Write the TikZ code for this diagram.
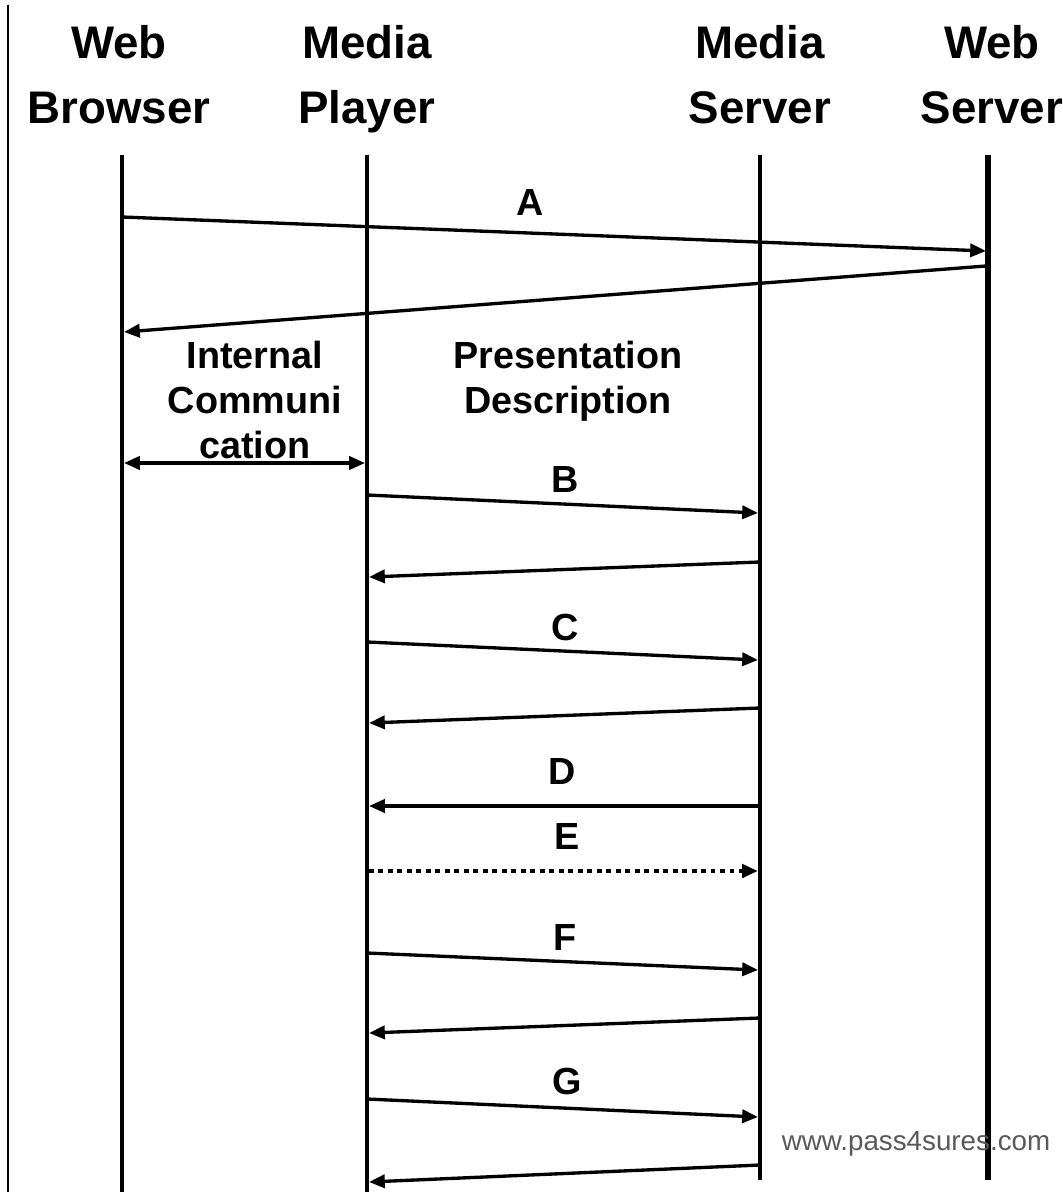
\documentclass[tikz,border=0pt]{standalone}
\usepackage{fontspec}
\setmainfont{Liberation Sans}
\usetikzlibrary{arrows.meta, positioning}
\colorlet{mark-grey}{black!65}
\tikzset{%
    edge/.style={%
        line width=1.9pt,
        -{Triangle[length=9pt, width=7.5pt]},
    },
    twoway/.style={%
        line width=1.9pt,
        {Triangle[length=9pt, width=7.5pt]}-{Triangle[length=9pt, width=7.5pt]},
    },
    dotted_edge/.style={%
        edge,
        line width=2.3pt,
        dash pattern=on 2.8pt off 2.6pt,
    },
    lifeline/.style={%
        line width=2.5pt,
    },
    actor/.style={%
        font=\fontsize{26}{36.8}\selectfont\bfseries,
        align=center,
        inner sep=0pt,
        anchor=north,
    },
    msg/.style={%
        font=\fontsize{21.5}{25.5}\selectfont\bfseries,
        inner sep=0pt,
    },
    note/.style={%
        msg,
        align=center,
        anchor=north,
    },
}

\begin{document}
\begin{tikzpicture}[x=0.02cm, y=-0.02cm]
  \useasboundingbox (0,0) rectangle (1062,1192);
  % \draw[help lines, step=50] (0,0) grid (1062,1192);
  \coordinate (frame_top) at (8,5);
  \coordinate (frame_bot) at (8,1192);
  \draw[line width=1.3pt] (frame_top) -- (frame_bot);

  % actors
  \node [actor] at (119,25) (browser) {Web\\Browser};
  \node [actor] at (367,25) (player) {Media\\Player};
  \node [actor] at (760,25) (mserver) {Media\\Server};
  \node [actor] at (992,25) (wserver) {Web\\Server};

  % lifelines
  \coordinate (browser_top) at (122,155);
  \coordinate (browser_bot) at (122,1192);
  \coordinate (player_top) at (367,155);
  \coordinate (player_bot) at (367,1192);
  \coordinate (mserver_top) at (760,155);
  \coordinate (mserver_bot) at (760,1180);
  \coordinate (wserver_top) at (988,155);
  \coordinate (wserver_bot) at (988,1180);

  \draw[lifeline] (browser_top) -- (browser_bot);
  \draw[lifeline] (player_top) -- (player_bot);
  \draw[lifeline] (mserver_top) -- (mserver_bot);
  \draw[lifeline, line width=3.2pt] (wserver_top) -- (wserver_bot);

  % message ends
  \coordinate (a_out) at (122,217);
  \coordinate (a_in) at (986,251);
  \coordinate (a_back) at (986,266);
  \coordinate (a_ret) at (124,332);
  \coordinate (int_l) at (124,463);
  \coordinate (int_r) at (365,463);
  \coordinate (b_out) at (367,495);
  \coordinate (b_in) at (758,513);
  \coordinate (b_back) at (760,562);
  \coordinate (b_ret) at (369,577);
  \coordinate (c_out) at (367,642);
  \coordinate (c_in) at (758,660);
  \coordinate (c_back) at (760,708);
  \coordinate (c_ret) at (369,723);
  \coordinate (d_out) at (760,806);
  \coordinate (d_in) at (369,806);
  \coordinate (e_out) at (369,871);
  \coordinate (e_in) at (758,871);
  \coordinate (f_out) at (367,953);
  \coordinate (f_in) at (758,970);
  \coordinate (f_back) at (760,1018);
  \coordinate (f_ret) at (369,1033);
  \coordinate (g_out) at (367,1099);
  \coordinate (g_in) at (758,1117);
  \coordinate (g_back) at (760,1165);
  \coordinate (g_ret) at (369,1182);

  % labels
  \node [msg] at (530,203) (lab_a) {A};
  \node [note] at (255,341) (lab_int) {Internal\\Communi\\cation};
  \node [note] at (568,341) (lab_pres) {Presentation\\Description};
  \node [msg] at (565,480) (lab_b) {B};
  \node [msg] at (565,627) (lab_c) {C};
  \node [msg] at (562,771) (lab_d) {D};
  \node [msg] at (567,836) (lab_e) {E};
  \node [msg] at (565,937) (lab_f) {F};
  \node [msg] at (567,1081) (lab_g) {G};
  \node [font=\fontsize{15.8}{19}\selectfont, text=mark-grey, inner sep=0pt,
         anchor=base] at (916,1150) (site) {www.pass4sures.com};

  % messages
  \draw[edge] (a_out) -- (a_in);
  \draw[edge] (a_back) -- (a_ret);
  \draw[twoway] (int_l) -- (int_r);
  \draw[edge] (b_out) -- (b_in);
  \draw[edge] (b_back) -- (b_ret);
  \draw[edge] (c_out) -- (c_in);
  \draw[edge] (c_back) -- (c_ret);
  \draw[edge] (d_out) -- (d_in);
  \draw[dotted_edge] (e_out) -- (e_in);
  \draw[edge] (f_out) -- (f_in);
  \draw[edge] (f_back) -- (f_ret);
  \draw[edge] (g_out) -- (g_in);
  \draw[edge] (g_back) -- (g_ret);
\end{tikzpicture}
\end{document}
